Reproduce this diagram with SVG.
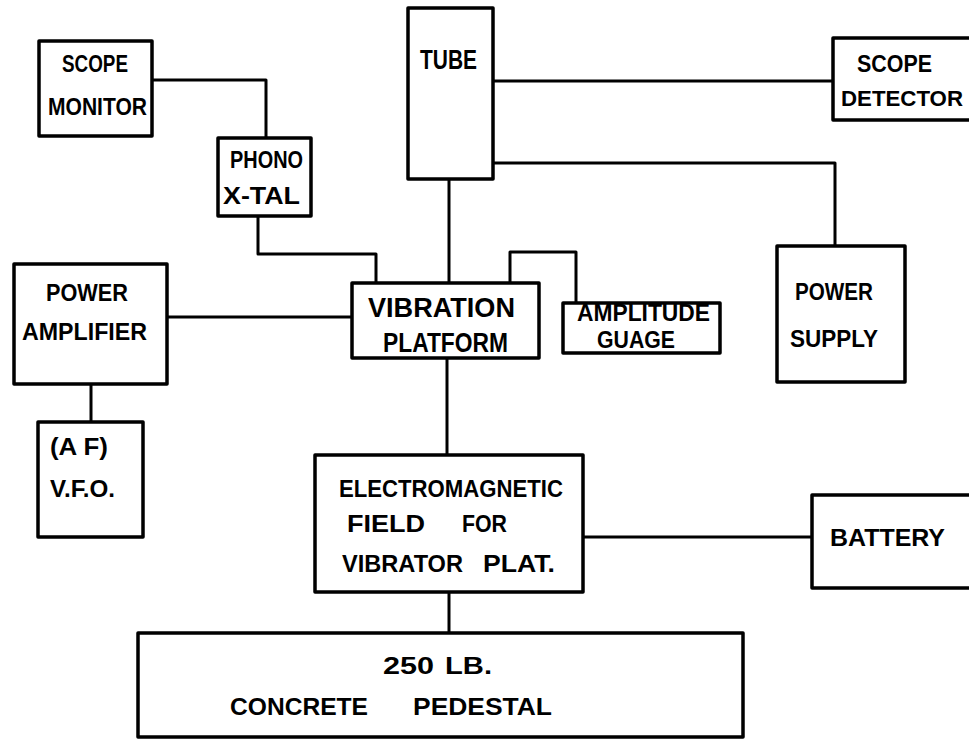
<svg xmlns="http://www.w3.org/2000/svg" width="969" height="740" viewBox="0 0 969 740">
<style>
.box{fill:#fff;stroke:#000;stroke-width:3.5;stroke-linejoin:round}
.wire{fill:none;stroke:#000;stroke-width:3;stroke-linejoin:round}
.t{font-family:"Liberation Sans","DejaVu Sans",Arial,sans-serif;font-weight:bold;font-size:24px;fill:#000}
.tl{font-size:27px}
</style>
<defs>
<clipPath id="agclip"><rect x="563" y="304" width="157" height="50"/></clipPath>
</defs>
<rect width="969" height="740" fill="#fff"/>
<g id="connectors">
<path class="wire" d="M152,80 H266 V138"/>
<path class="wire" d="M258,216 V254 H376 V283"/>
<path class="wire" d="M493,81 H833"/>
<path class="wire" d="M493,163 H835 V246"/>
<path class="wire" d="M449,179 V283"/>
<path class="wire" d="M167,317 H352"/>
<path class="wire" d="M91,384 V422"/>
<path class="wire" d="M510,283 V252 H576 V303"/>
<path class="wire" d="M447,358 V455"/>
<path class="wire" d="M583,537 H812"/>
<path class="wire" d="M449,592 V633"/>
</g>
<g id="scope_monitor">
<rect class="box" x="39" y="41" width="113" height="95"/>
<text class="t" x="62" y="72" textLength="66" lengthAdjust="spacingAndGlyphs">SCOPE</text>
<text class="t" x="48" y="115" textLength="99" lengthAdjust="spacingAndGlyphs">MONITOR</text>
</g>
<g id="phono_xtal">
<rect class="box" x="218" y="138" width="93" height="78"/>
<text class="t" x="230" y="168" textLength="73" lengthAdjust="spacingAndGlyphs">PHONO</text>
<text class="t" x="223" y="204" textLength="77" lengthAdjust="spacingAndGlyphs">X-TAL</text>
</g>
<g id="tube">
<rect class="box" x="408" y="8" width="85" height="171"/>
<text class="t tl" x="420" y="69" textLength="57" lengthAdjust="spacingAndGlyphs">TUBE</text>
</g>
<g id="scope_detector">
<rect class="box" x="833" y="38" width="150" height="82"/>
<text class="t" x="857" y="72" textLength="75" lengthAdjust="spacingAndGlyphs">SCOPE</text>
<text class="t" x="841" y="106" style="font-size:22.5px" textLength="122" lengthAdjust="spacingAndGlyphs">DETECTOR</text>
</g>
<g id="power_amplifier">
<rect class="box" x="14" y="264" width="153" height="120"/>
<text class="t" x="46" y="301" textLength="82" lengthAdjust="spacingAndGlyphs">POWER</text>
<text class="t" x="22" y="340" textLength="125" lengthAdjust="spacingAndGlyphs">AMPLIFIER</text>
</g>
<g id="vfo">
<rect class="box" x="38" y="422" width="105" height="115"/>
<text class="t" x="50" y="455" textLength="58" lengthAdjust="spacingAndGlyphs">(A F)</text>
<text class="t" x="50" y="497" textLength="65" lengthAdjust="spacingAndGlyphs">V.F.O.</text>
</g>
<g id="vibration_platform">
<rect class="box" x="352" y="283" width="187" height="75"/>
<text class="t tl" x="368" y="317" textLength="147" lengthAdjust="spacingAndGlyphs">VIBRATION</text>
<text class="t tl" x="383" y="352" textLength="125" lengthAdjust="spacingAndGlyphs">PLATFORM</text>
</g>
<g id="amplitude_guage">
<rect class="box" x="563" y="303" width="157" height="50"/>
<text class="t" x="577" y="321" textLength="133" lengthAdjust="spacingAndGlyphs" clip-path="url(#agclip)">AMPLITUDE</text>
<text class="t" x="597" y="348" textLength="78" lengthAdjust="spacingAndGlyphs">GUAGE</text>
</g>
<g id="power_supply">
<rect class="box" x="777" y="246" width="128" height="136"/>
<text class="t" x="795" y="300" textLength="78" lengthAdjust="spacingAndGlyphs">POWER</text>
<text class="t" x="790" y="347" textLength="88" lengthAdjust="spacingAndGlyphs">SUPPLY</text>
</g>
<g id="electromagnetic_field">
<rect class="box" x="315" y="455" width="268" height="137"/>
<text class="t" x="339" y="497" textLength="224" lengthAdjust="spacingAndGlyphs">ELECTROMAGNETIC</text>
<text class="t" y="532"><tspan x="347" textLength="78" lengthAdjust="spacingAndGlyphs">FIELD</tspan><tspan x="462" textLength="45" lengthAdjust="spacingAndGlyphs">FOR</tspan></text>
<text class="t" y="572"><tspan x="342" textLength="121" lengthAdjust="spacingAndGlyphs">VIBRATOR</tspan><tspan x="483" textLength="72" lengthAdjust="spacingAndGlyphs">PLAT.</tspan></text>
</g>
<g id="battery">
<rect class="box" x="812" y="495" width="170" height="93"/>
<text class="t" x="830" y="546" textLength="115" lengthAdjust="spacingAndGlyphs">BATTERY</text>
</g>
<g id="concrete_pedestal">
<rect class="box" x="138" y="633" width="605" height="104"/>
<text class="t" y="674"><tspan x="383" textLength="51" lengthAdjust="spacingAndGlyphs">250</tspan><tspan x="445" textLength="47" lengthAdjust="spacingAndGlyphs">LB.</tspan></text>
<text class="t" y="715"><tspan x="230" textLength="138" lengthAdjust="spacingAndGlyphs">CONCRETE</tspan><tspan x="413" textLength="139" lengthAdjust="spacingAndGlyphs">PEDESTAL</tspan></text>
</g>
</svg>
